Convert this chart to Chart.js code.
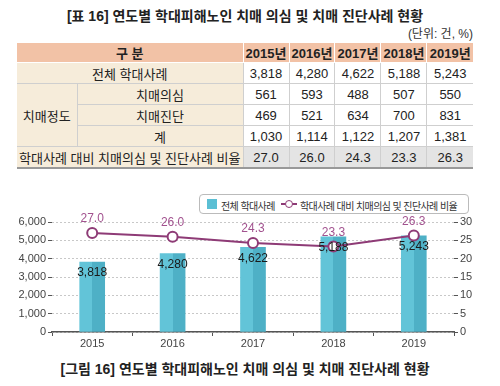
<!DOCTYPE html>
<html>
<head>
<meta charset="utf-8">
<script src="https://cdn.jsdelivr.net/npm/chart.js@4.4.0/dist/chart.umd.min.js"></script>
<style>
  body { margin: 0; width: 500px; height: 386px; background: #fff; position: relative; overflow: hidden;
         font-family: "Liberation Sans", "Noto Sans CJK KR", sans-serif; color: #222; }
  .title { position: absolute; left: 0; width: 490px; top: 5px; text-align: center; font-weight: bold; font-size: 14px; }
  .unit { position: absolute; right: 27px; top: 24px; font-size: 12px; color: #333; }
  table { position: absolute; left: 17px; top: 43px; width: 456px; border-collapse: collapse; table-layout: fixed; font-size: 13px; }
  td, th { padding: 0; text-align: center; border: 1px solid #cfcfcf; height: 20px; }
  th { background: #f2c2a6; font-weight: bold; border-color: #fff; border-top: none; height: 18px; }
  td.lab { background: #f6ecda; }
  tr.ratio td { background: #e4e4e4; border-bottom: 2px solid #999; }
  tr.ratio td.lab { background: #f6ecda; }
  td:first-child, th:first-child { border-left: none; }
  td:last-child, th:last-child { border-right: none; }
  #legend { position: absolute; left: 199px; top: 194px; width: 270px; height: 20px; border: 1px solid #bbb; border-radius: 4px;
            font-size: 10px; letter-spacing: -0.6px; color: #333; box-sizing: border-box; }
  #legend span { position: absolute; top: 3px; white-space: nowrap; }
  .sq { position: absolute; left: 7px; top: 4px; width: 10px; height: 10px; background: #5bbfd4; }
  .ln { position: absolute; left: 81px; top: 8px; width: 16px; height: 2px; background: #8e3b76; }
  .dot { position: absolute; left: 85px; top: 5px; width: 6px; height: 6px; border: 1.5px solid #8e3b76; border-radius: 50%; background: #fff; }
  #wrap { position: absolute; left: 0; top: 205px; width: 500px; height: 150px; }
  .caption { position: absolute; left: 0; width: 490px; top: 358px; text-align: center; font-weight: bold; font-size: 14px; }
</style>
</head>
<body>
<div class="title">[표 16] 연도별 학대피해노인 치매 의심 및 치매 진단사례 현황</div>
<div class="unit">(단위: 건, %)</div>
<table id="tbl">
  <colgroup><col style="width:60px"><col style="width:166px"><col><col><col><col><col></colgroup>
</table>

<div id="legend">
  <div class="sq"></div><span style="left:21px">전체 학대사례</span>
  <div class="ln"></div><div class="dot"></div><span style="left:100px">학대사례 대비 치매의심 및 진단사례 비율</span>
</div>
<div id="wrap"><canvas id="chart"></canvas></div>
<div class="caption">[그림 16] 연도별 학대피해노인 치매 의심 및 치매 진단사례 현황</div>

<script>
const years = ['2015', '2016', '2017', '2018', '2019'];
const totalCases = [3818, 4280, 4622, 5188, 5243];
const suspected = [561, 593, 488, 507, 550];
const diagnosed = [469, 521, 634, 700, 831];
const dementiaSum = [1030, 1114, 1122, 1207, 1381];
const ratio = [27.0, 26.0, 24.3, 23.3, 26.3];

const fmt = v => v.toLocaleString('en-US');

// table
const tbl = document.getElementById('tbl');
let html = '<tr><th colspan="2">구 분</th>' + years.map(y => '<th>' + y + '년</th>').join('') + '</tr>';
html += '<tr><td class="lab" colspan="2">전체 학대사례</td>' + totalCases.map(v => '<td>' + fmt(v) + '</td>').join('') + '</tr>';
html += '<tr><td class="lab" rowspan="3">치매정도</td><td class="lab">치매의심</td>' + suspected.map(v => '<td>' + v + '</td>').join('') + '</tr>';
html += '<tr><td class="lab">치매진단</td>' + diagnosed.map(v => '<td>' + v + '</td>').join('') + '</tr>';
html += '<tr><td class="lab">계</td>' + dementiaSum.map(v => '<td>' + fmt(v) + '</td>').join('') + '</tr>';
html += '<tr class="ratio"><td class="lab" colspan="2">학대사례 대비 치매의심 및 진단사례 비율</td>' + ratio.map(v => '<td>' + v.toFixed(1) + '</td>').join('') + '</tr>';
tbl.insertAdjacentHTML('beforeend', html);

// value labels on bars and points
const valueLabels = {
  id: 'valueLabels',
  afterDatasetsDraw(chart) {
    const ctx = chart.ctx;
    ctx.save();
    ctx.textAlign = 'center';
    ctx.textBaseline = 'middle';
    ctx.font = '12px "Liberation Sans", sans-serif';
    chart.getDatasetMeta(1).data.forEach((bar, i) => {
      ctx.fillStyle = '#1a1a1a';
      ctx.fillText(fmt(totalCases[i]), bar.x, bar.y + 11);
    });
    chart.getDatasetMeta(0).data.forEach((pt, i) => {
      ctx.fillStyle = '#a2528f';
      ctx.fillText(ratio[i].toFixed(1), pt.x, pt.y - 14);
    });
    ctx.restore();
  }
};

const BAR_W = 25;
// two-tone bar: lighter left half, darker right half
const barFill = (c) => {
  const xs = c.chart.scales.x;
  if (!xs || c.dataIndex === undefined) return '#5bbfd4';
  const cx = xs.getPixelForValue(c.dataIndex);
  if (!isFinite(cx)) return '#5bbfd4';
  const x0 = cx - BAR_W / 2;
  const g = c.chart.ctx.createLinearGradient(x0, 0, x0 + BAR_W, 0);
  g.addColorStop(0, '#62c4d8');
  g.addColorStop(0.5, '#62c4d8');
  g.addColorStop(0.5, '#4eb0c6');
  g.addColorStop(1, '#4eb0c6');
  return g;
};

new Chart(document.getElementById('chart'), {
  data: {
    labels: years,
    datasets: [
      {
        type: 'line',
        label: '학대사례 대비 치매의심 및 진단사례 비율',
        data: ratio,
        yAxisID: 'y1',
        borderColor: '#8e3b76',
        borderWidth: 2,
        pointRadius: 5,
        pointBorderWidth: 2,
        pointBackgroundColor: '#fff',
        pointBorderColor: '#8e3b76',
        tension: 0
      },
      {
        type: 'bar',
        label: '전체 학대사례',
        data: totalCases,
        yAxisID: 'y',
        backgroundColor: barFill,
        barThickness: BAR_W
      }
    ]
  },
  options: {
    responsive: true,
    maintainAspectRatio: false,
    animation: false,
    layout: { padding: { top: 17, left: 0, right: 0, bottom: 0 } },
    plugins: { legend: { display: false }, tooltip: { enabled: false } },
    scales: {
      x: {
        offset: true,
        afterFit: s => { s.height = 23; },
        grid: { offset: true, drawOnChartArea: false, tickLength: 4, tickColor: '#555' },
        border: { color: '#555', width: 1.5 },
        ticks: { color: '#444', font: { size: 11 }, padding: 1 }
      },
      y: {
        position: 'left',
        min: 0, max: 6000,
        afterFit: s => { s.width = 52; },
        ticks: { stepSize: 1000, color: '#444', font: { size: 11 }, padding: 2, callback: v => fmt(v) },
        grid: { color: '#c8c8c8', tickColor: '#555', tickLength: 4 },
        border: { display: false, dash: [2, 2] }
      },
      y1: {
        position: 'right',
        min: 0, max: 30,
        afterFit: s => { s.width = 46; },
        ticks: { stepSize: 5, color: '#444', font: { size: 11 }, padding: 2 },
        grid: { drawOnChartArea: false, tickColor: '#555', tickLength: 4 },
        border: { display: false }
      }
    }
  },
  plugins: [valueLabels]
});
</script>
</body>
</html>
